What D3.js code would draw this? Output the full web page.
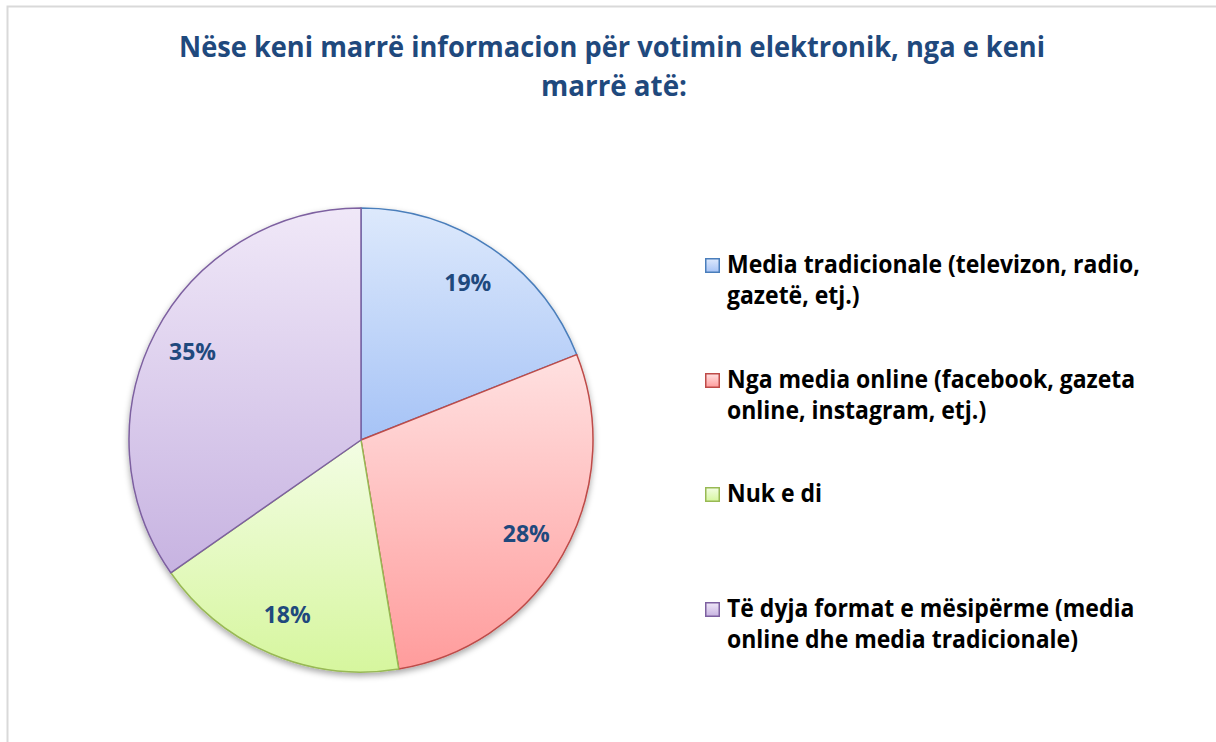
<!DOCTYPE html>
<html lang="sq">
<head>
    <meta charset="UTF-8">
    <title>Votimi elektronik</title>
    <script src="https://d3js.org/d3.v7.min.js"></script>
    <style>
        body { margin: 0; background: #fff; }
        svg { display: block; font-family: "Open Sans", "Noto Sans", sans-serif; }
    </style>
</head>
<body>
<div id="chart"></div>
<script>
    // data (slice sizes)
    const categories = [
        ['Media tradicionale (televizon, radio,', 'gazetë, etj.)'],
        ['Nga media online (facebook, gazeta', 'online, instagram, etj.)'],
        ['Nuk e di'],
        ['Të dyja format e mësipërme (media', 'online dhe media tradicionale)']
    ];
    const values = [19.0, 28.4, 17.9, 34.7];
    const titleLines = ['Nëse keni marrë informacion për votimin elektronik, nga e keni', 'marrë atë:'];

    const fillTop = ['#dde9fc', '#ffe1e1', '#f3fde4', '#f0e8f8'];
    const fillBottom = ['#a6c3f6', '#ff9c9c', '#d6f69e', '#c7b3e1'];
    const strokes = ['#4a7ebb', '#be4b48', '#98b954', '#7d60a0'];

    const width = 1216, height = 742;
    const cx = 361, cy = 440, r = 232;

    const svg = d3.select('#chart').append('svg')
        .attr('width', width)
        .attr('height', height);

    const defs = svg.append('defs');

    // frame (only top and left edges visible)
    svg.append('path')
        .attr('d', `M7.5,${height} V6.5 H${width}`)
        .attr('fill', 'none')
        .attr('stroke', '#d9d9d9')
        .attr('stroke-width', 2);

    // title
    const title = svg.append('text')
        .attr('fill', '#1f497d')
        .attr('font-weight', 'bold')
        .attr('font-size', 29)
        .attr('text-anchor', 'middle');
    title.append('tspan').attr('x', 612).attr('y', 57)
        .attr('textLength', 866).attr('lengthAdjust', 'spacingAndGlyphs')
        .text(titleLines[0]);
    title.append('tspan').attr('x', 614).attr('y', 96)
        .attr('textLength', 146).attr('lengthAdjust', 'spacingAndGlyphs')
        .text(titleLines[1]);

    // gradients, one per slice
    values.forEach((v, i) => {
        const g = defs.append('linearGradient')
            .attr('id', 'grad' + i)
            .attr('x1', 0).attr('y1', 0).attr('x2', 0).attr('y2', 1);
        g.append('stop').attr('offset', '0%').attr('stop-color', fillTop[i]);
        g.append('stop').attr('offset', '100%').attr('stop-color', fillBottom[i]);
    });

    const shadow = defs.append('filter').attr('id', 'shadow')
        .attr('x', '-10%').attr('y', '-10%').attr('width', '120%').attr('height', '125%');
    shadow.append('feDropShadow')
        .attr('dx', 0).attr('dy', 3).attr('stdDeviation', 3)
        .attr('flood-color', '#000').attr('flood-opacity', 0.35);

    const pie = d3.pie().sort(null).value(d => d);
    const arcs = pie(values);
    const arc = d3.arc().innerRadius(0).outerRadius(r);
    const labelArc = d3.arc().innerRadius(190).outerRadius(190);

    const g = svg.append('g').attr('transform', `translate(${cx},${cy})`);

    g.append('g').attr('filter', 'url(#shadow)')
        .selectAll('path')
        .data(arcs)
        .enter().append('path')
        .attr('d', arc)
        .attr('fill', (d, i) => `url(#grad${i})`)
        .attr('stroke', (d, i) => strokes[i])
        .attr('stroke-width', 1.5)
        .attr('stroke-linejoin', 'round');

    const total = d3.sum(values);
    g.selectAll('.pct')
        .data(arcs)
        .enter().append('text')
        .attr('class', 'pct')
        .attr('transform', d => `translate(${labelArc.centroid(d)})`)
        .attr('dy', '0.36em')
        .attr('text-anchor', 'middle')
        .attr('fill', '#1f497d')
        .attr('font-weight', 'bold')
        .attr('font-size', 23)
        .text(d => Math.round(d.data / total * 100) + '%');

    // legend
    const legendX = 705;
    const legendY = [258, 373, 487, 602];
    const lineGap = 31;

    const legend = svg.append('g');
    const item = legend.selectAll('.item')
        .data(categories)
        .enter().append('g')
        .attr('class', 'item')
        .attr('transform', (d, i) => `translate(${legendX},${legendY[i]})`);

    item.append('rect')
        .attr('x', 0.75).attr('y', 0.75)
        .attr('width', 13.5).attr('height', 13.5)
        .attr('fill', (d, i) => `url(#grad${i})`)
        .attr('stroke', (d, i) => strokes[i])
        .attr('stroke-width', 1.5);

    const label = item.append('text')
        .attr('transform', 'translate(22,15)')
        .attr('fill', '#000')
        .attr('font-weight', 'bold')
        .attr('font-size', 25);
    label.selectAll('tspan')
        .data(d => d)
        .enter().append('tspan')
        .attr('x', 0)
        .attr('y', (d, j) => j * lineGap)
        .text(d => d);

    // squeeze legend text to the narrower face used in the original
    const firstLine = label.node();
    const w = firstLine.querySelector('tspan').getComputedTextLength();
    const sx = 413 / w;
    label.attr('transform', `translate(22,15) scale(${sx},1)`);
</script>
</body>
</html>
